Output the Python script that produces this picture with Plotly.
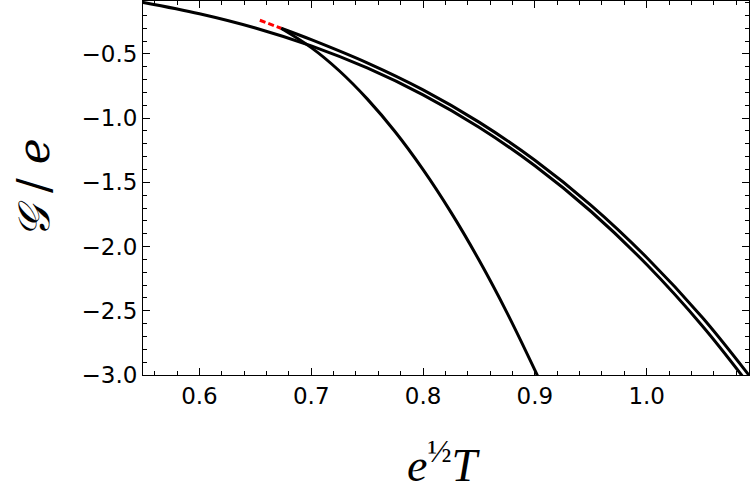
import plotly.graph_objects as go

# Curve A (starts top-left, becomes the inner curve of the right-hand pair)
a_T = [0.549, 0.60, 0.65, 0.70, 0.75, 0.80, 0.85, 0.90, 0.95, 1.00, 1.05, 1.09]
a_G = [-0.098, -0.187, -0.298, -0.4375, -0.6095, -0.819, -1.071, -1.371, -1.725, -2.140, -2.620, -3.058]

# Upper branch from the cusp (outer curve of the right-hand pair)
u_T = [0.673, 0.70, 0.75, 0.80, 0.85, 0.90, 0.95, 1.00, 1.05, 1.09, 1.095]
u_G = [-0.300, -0.389, -0.5695, -0.780, -1.031, -1.328, -1.677, -2.085, -2.554, -2.985, -3.042]

# Steep branch from the cusp
s_T = [0.673, 0.70, 0.725, 0.75, 0.775, 0.80, 0.825, 0.85, 0.875, 0.90, 0.905]
s_G = [-0.300, -0.451, -0.631, -0.850, -1.106, -1.401, -1.734, -2.105, -2.514, -2.962, -3.056]

# Red dashed segment
r_T = [0.654, 0.673]
r_G = [-0.238, -0.300]

x_ticks = [0.6, 0.7, 0.8, 0.9, 1.0]
y_ticks = [-3.0, -2.5, -2.0, -1.5, -1.0, -0.5]

fig = go.Figure()
for xs, ys in [(a_T, a_G), (u_T, u_G), (s_T, s_G)]:
    fig.add_trace(go.Scatter(x=xs, y=ys, mode="lines",
                             line=dict(shape="spline", smoothing=1.0, color="black", width=3),
                             showlegend=False, hoverinfo="skip"))
fig.add_trace(go.Scatter(x=r_T, y=r_G, mode="lines",
                         line=dict(color="red", width=3, dash="6px,3px"),
                         showlegend=False, hoverinfo="skip"))

tickfont = dict(family="DejaVu Sans", size=23, color="black")
common = dict(showline=True, linecolor="black", linewidth=1, mirror="ticks",
              ticks="inside", ticklen=7, tickwidth=1, tickcolor="black",
              showgrid=False, zeroline=False, tickfont=tickfont, tickformat=".1f")

fig.update_xaxes(range=[0.5495, 1.0915], tickvals=x_ticks,
                 minor=dict(ticks="inside", ticklen=4, tickwidth=1, tickcolor="black", dtick=0.02, tick0=0.6),
                 **common)
fig.update_yaxes(range=[-3.0, -0.088], tickvals=y_ticks,
                 minor=dict(ticks="inside", ticklen=4, tickwidth=1, tickcolor="black", dtick=0.1, tick0=-3.0),
                 **common)

fig.add_annotation(text="<i>𝒢</i> / <i>e</i>", xref="paper", yref="paper",
                   x=-0.1815, y=0.5, xanchor="center", yanchor="middle",
                   textangle=-90, showarrow=False,
                   font=dict(family="DejaVu Serif", size=44, color="black"))
fig.add_annotation(text="<i>e</i><sup>½</sup><i>T</i>", xref="paper", yref="paper",
                   x=(443.5 - 143) / 606, y=-0.232, xanchor="center", yanchor="middle",
                   showarrow=False,
                   font=dict(family="Liberation Serif", size=46, color="black"))

fig.update_layout(width=750, height=500, margin=dict(l=143, r=1, t=1, b=125),
                  plot_bgcolor="white", paper_bgcolor="white")

fig.write_html("out.html")
